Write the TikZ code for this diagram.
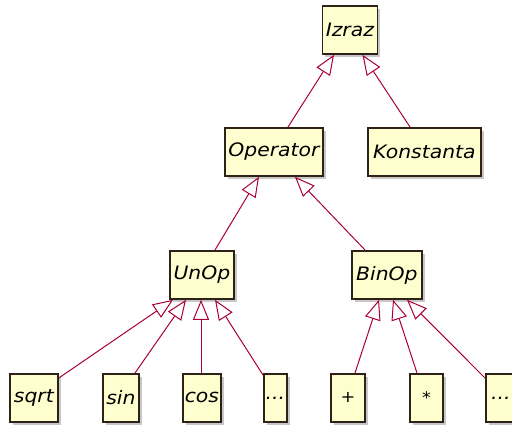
\documentclass[tikz,border=0pt]{standalone}
\usepackage{fontspec}
\setmainfont{DejaVu Sans}[ItalicFont={DejaVu Sans Oblique}, ItalicFeatures={FakeStretch=1.1}]
\usetikzlibrary{arrows.meta,shadows}
\definecolor{boxfill}{HTML}{FEFECE}
\definecolor{boxline}{HTML}{2E2118}
\definecolor{edgecol}{HTML}{A80036}
\tikzset{
  cls/.style={draw=boxline, line width=1.8pt, fill=boxfill, inner sep=0pt,
    minimum height=48pt, anchor=north west,
    font=\fontsize{18.5}{22}\selectfont\itshape,
    drop shadow={shadow xshift=3pt, shadow yshift=-3pt, fill=black, opacity=0.22}},
  small sign/.style={font=\fontsize{16}{19}\selectfont\itshape},
  ext/.style={draw=edgecol, line width=1pt,
    -{Triangle[open, length=20pt, width=16pt, fill=white]}}
}
\begin{document}
\begin{tikzpicture}[x=1pt, y=-1pt]
\useasboundingbox (0,0) rectangle (512,426);
% classes
\node[cls, minimum width=55pt]  (izraz)  at (321.5,5)  {Izraz};
\node[cls, minimum width=98pt]  (oper)   at (224,127)  {Operator};
\node[cls, minimum width=113pt] (konst)  at (367,127)  {Konstanta};
\node[cls, minimum width=64pt]  (unop)   at (169,250)  {UnOp};
\node[cls, minimum width=70pt]  (binop)  at (351,250)  {BinOp};
\node[cls, minimum width=48pt]  (sqrt)   at (9,373)    {sqrt};
\node[cls, minimum width=36pt]  (sin)    at (102,373)  {sin};
\node[cls, minimum width=38pt]  (cos)    at (182,373)  {cos};
\node[cls, minimum width=23pt]  (udots)  at (263,373)  {...};
\node[cls, small sign, minimum width=34pt]  (plus)   at (330,373)  {+};
\node[cls, small sign, minimum width=33pt]  (times)  at (409,373)  {*};
\node[cls, minimum width=30pt]  (bdots)  at (485,373)  {...};
% inheritance
\draw[ext] ([xshift=64pt]oper.north west) -- ([xshift=12.5pt]izraz.south west);
\draw[ext] ([xshift=43pt]konst.north west) -- ([xshift=41pt]izraz.south west);
\draw[ext] ([xshift=46pt]unop.north west) -- ([xshift=35pt]oper.south west);
\draw[ext] ([xshift=14pt]binop.north west) -- ([xshift=71pt]oper.south west);
\draw[ext] ([yshift=-5pt]sqrt.north east) -- ([xshift=4pt]unop.south west);
\draw[ext] ([xshift=33pt]sin.north west) -- ([xshift=17pt]unop.south west);
\draw[ext] ([xshift=19pt]cos.north west) -- ([xshift=32pt]unop.south west);
\draw[ext] ([yshift=-2pt]udots.north west) -- ([xshift=46pt]unop.south west);
\draw[ext] ([xshift=25pt]plus.north west) -- ([xshift=28pt]binop.south west);
\draw[ext] ([xshift=8pt]times.north west) -- ([xshift=42pt]binop.south west);
\draw[ext] ([yshift=-5pt]bdots.north west) -- ([xshift=56pt]binop.south west);
\end{tikzpicture}
\end{document}
